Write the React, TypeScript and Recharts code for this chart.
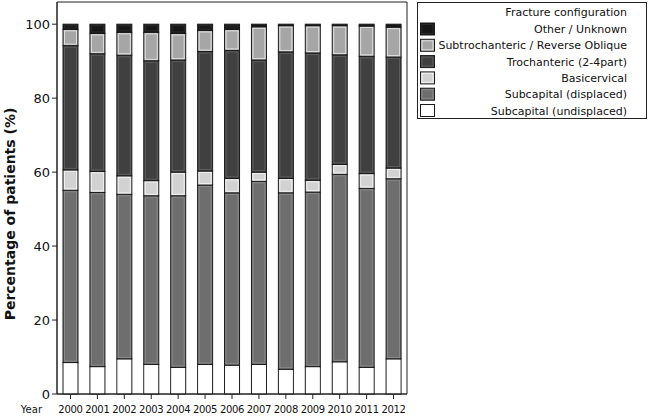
import React from 'react';
import { BarChart, Bar, XAxis, YAxis, ReferenceArea } from 'recharts';

const years = ['2000','2001','2002','2003','2004','2005','2006','2007','2008','2009','2010','2011','2012'];
const subcapitalUndisplaced = [8.5,7.4,9.5,8.0,7.2,8.0,7.8,8.0,6.7,7.4,8.7,7.2,9.5];
const subcapitalDisplaced = [46.6,47.1,44.5,45.6,46.4,48.5,46.6,49.5,47.7,47.2,50.7,48.4,48.7];
const basicervical = [5.5,5.7,5.0,4.1,6.4,3.8,3.9,2.5,3.9,3.2,2.7,4.0,2.9];
const trochanteric = [33.6,31.8,32.6,32.4,30.3,32.3,34.6,30.3,34.2,34.4,29.6,31.7,30.0];
const subtrochanteric = [4.4,5.5,6.2,7.7,7.2,5.7,5.7,9.0,7.1,7.4,7.9,8.2,8.1];
const otherUnknown = [1.4,2.5,2.2,2.2,2.5,1.7,1.4,0.7,0.4,0.4,0.4,0.5,0.8];
const yTicks = [0,20,40,60,80,100];

const legendTitle = 'Fracture configuration';
const seriesKeys = ['undisplaced','displaced','basicervical','trochanteric','subtrochanteric','other'];
const seriesNames = ['Subcapital (undisplaced)','Subcapital (displaced)','Basicervical','Trochanteric (2-4part)','Subtrochanteric / Reverse Oblique','Other / Unknown'];
const seriesColors = ['#ffffff','#6e6e6e','#d2d2d2','#404040','#a6a6a6','#151515'];
const innerColors = ['#ffffff','#8a8a8a','#f0f0f0','#5e5e5e','#e0e0e0','#2a2a2a'];

const data = years.map((year, i) => ({
  year,
  undisplaced: subcapitalUndisplaced[i],
  displaced: subcapitalDisplaced[i],
  basicervical: basicervical[i],
  trochanteric: trochanteric[i],
  subtrochanteric: subtrochanteric[i],
  other: otherUnknown[i],
}));

const FONT = '"DejaVu Sans", Verdana, sans-serif';

const makeShape = (inner: string) => (props: any) => {
  const { x, y, width, height, fill } = props;
  if (!height || height <= 0) return <g />;
  return (
    <g>
      <rect x={x} y={y} width={width} height={height} fill={fill} stroke="#1a1a1a" strokeWidth={1} />
      {height > 3.5 ? (
        <rect x={x + 1.5} y={y + 1.5} width={width - 3} height={height - 3} fill="none" stroke={inner} strokeWidth={1} />
      ) : null}
    </g>
  );
};

const YLabel = (props: any) => {
  const vb = props.viewBox || { x: 17, y: 2, width: 40, height: 392 };
  const cx = vb.x - 7;
  const cy = vb.y + vb.height / 2 + 16;
  return (
    <text x={cx} y={cy} transform={`rotate(-90, ${cx}, ${cy})`} textAnchor="middle" dominantBaseline="central"
      fontFamily={FONT} fontSize={14} fontWeight="bold" fill="#111">
      Percentage of patients (%)
    </text>
  );
};

const XLabel = (props: any) => {
  const vb = props.viewBox || { x: 57, y: 394 };
  return (
    <text x={vb.x - 15} y={vb.y + 19} textAnchor="end" fontFamily={FONT} fontSize={10} fill="#111">Year</text>
  );
};

const LegendBox = () => {
  const rows = seriesNames.map((n, i) => ({ name: n, color: seriesColors[i], inner: innerColors[i] })).reverse();
  return (
    <svg width={232} height={120} style={{ position: 'absolute', left: 416, top: 1 }}>
      <rect x={1.5} y={1.5} width={229} height={116} fill="#fff" stroke="#222" strokeWidth={1} />
      <text x={211} y={15} textAnchor="end" fontFamily={FONT} fontSize={11} fill="#111">{legendTitle}</text>
      {rows.map((r, i) => {
        const cy = 28 + i * 16.3;
        return (
          <g key={r.name}>
            <rect x={4.5} y={cy - 6} width={14} height={12} fill={r.color} stroke="#1a1a1a" strokeWidth={1} />
            <rect x={6} y={cy - 4.5} width={11} height={9} fill="none" stroke={r.inner} strokeWidth={1} />
            <text x={211} y={cy + 4} textAnchor="end" fontFamily={FONT} fontSize={11} fill="#111">{r.name}</text>
          </g>
        );
      })}
    </svg>
  );
};

export default function App() {
  return (
    <div style={{ position: 'absolute', left: 0, top: 0, width: 650, height: 416, background: '#fff' }}>
      <BarChart width={650} height={416} data={data} barSize={15}
        margin={{ top: 2, right: 243, bottom: 0, left: 17 }}>
        <XAxis dataKey="year" interval={0} height={22} tickSize={5} tickMargin={7}
          axisLine={{ stroke: '#222' }} tickLine={{ stroke: '#222' }}
          tick={{ fontSize: 10, fontFamily: FONT, fill: '#111', letterSpacing: -0.3 }}
          label={<XLabel />} />
        <YAxis domain={[0, 106]} ticks={yTicks} width={40} tickSize={5} tickMargin={2} interval={0}
          axisLine={{ stroke: '#222' }} tickLine={{ stroke: '#222' }}
          tick={{ fontSize: 13, fontFamily: FONT, fill: '#111' }}
          label={<YLabel />} />
        {seriesKeys.map((k, i) => (
          <Bar key={k} dataKey={k} stackId="a" fill={seriesColors[i]} name={seriesNames[i]}
            isAnimationActive={false} shape={makeShape(innerColors[i])} />
        ))}
        <ReferenceArea y1={0} y2={106} fill="none" fillOpacity={0} stroke="#222" strokeWidth={1} ifOverflow="visible" />
      </BarChart>
      <LegendBox />
    </div>
  );
}
